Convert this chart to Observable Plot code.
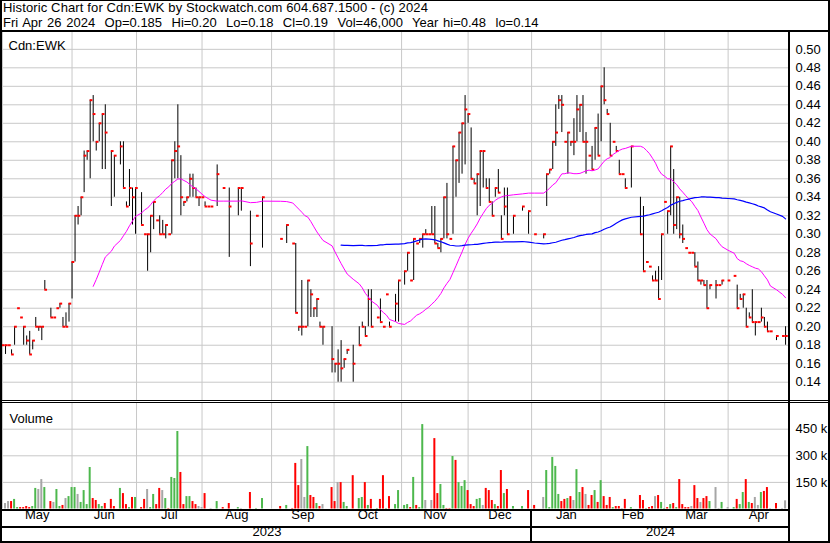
<!DOCTYPE html>
<html><head><meta charset="utf-8">
<script src="https://cdn.jsdelivr.net/npm/d3@7"></script>
<script src="https://cdn.jsdelivr.net/npm/@observablehq/plot@0.6"></script>
<style>
body{margin:0;background:#fff;}
#wrap{position:relative;width:830px;height:543px;background:#fff;overflow:hidden;font-family:Arial,"Liberation Sans",sans-serif;color:#000;}
.hd{position:absolute;left:3px;font-size:13px;line-height:15px;white-space:pre;}
#hdr1{top:0;letter-spacing:0.13px;}
#hdr2{top:15px;word-spacing:1.1px;}
.ln{position:absolute;background:#000;z-index:5;}
.pl{position:absolute;left:0;}
</style></head><body><div id="wrap"><div id="hdr1" class="hd"></div><div id="hdr2" class="hd"></div></div>
<script>
// ---- header text ----
const titleLine = "Historic Chart for Cdn:EWK by Stockwatch.com 604.687.1500 - (c) 2024";
const quoteLine = "Fri Apr 26 2024  Op=0.185  Hi=0.20  Lo=0.18  Cl=0.19  Vol=46,000  Year hi=0.48  lo=0.14";
const symbolLabel = "Cdn:EWK";
const volumeLabel = "Volume";

// ---- daily data, one entry per weekday from Fri 2023-04-28 to Fri 2024-04-26 (null = no bar) ----
const high = [
 null,.18,.18,.18,.175,.20,.22,.21,.20,.19,
 .195,.185,.21,.20,.20,.25,null,.22,.21,.22,
 .225,.21,.215,.225,.27,.32,.33,.34,.39,.39,
 .445,.45,.40,.42,.43,.44,null,.39,.385,null,
 .40,.40,.335,.37,.35,.35,null,.345,.30,.30,
 .32,.335,.315,.32,.315,.31,.30,.38,.40,.44,
 .385,.335,.34,.365,.365,.35,.34,.34,.335,.33,
 .33,null,.375,null,.35,null,.35,null,null,.35,
 .35,null,null,.325,null,.32,null,.34,null,null,
 null,null,null,.295,null,.31,null,.29,.29,.20,
 .25,.20,.25,.24,.22,.23,.205,.20,null,null,
 .20,.16,.175,.185,.165,.175,null,.18,null,.20,
 .205,.20,.24,.24,null,.21,.23,.20,.235,.205,
 null,.235,.25,null,.26,.28,.25,.295,.29,.295,
 .30,.305,.30,.33,.33,.29,.295,.34,.355,.295,
 .395,.38,.41,.42,.45,.43,.415,.36,.365,.39,
 .39,.36,.36,.335,.35,.37,.32,.35,.35,null,
 .32,null,null,.33,null,.325,null,.30,null,null,
 .30,.365,.37,.40,.44,.45,.45,.40,.41,.40,
 .425,.45,.44,.45,.41,.385,.395,.415,.43,.46,
 .48,.435,.42,.40,.395,.38,.365,.36,null,.395,
 null,null,.34,.33,.27,.265,.255,.26,.265,.30,
 .335,.325,.395,.37,.34,.34,.31,.285,.28,.28,
 .28,.27,.25,.25,.25,.245,null,.25,.245,.25,
 null,.25,null,.255,.245,.235,.235,.22,.215,.24,
 .205,.205,.22,.21,.205,.195,null,.19,null,.19,.20
];
const low = [
 null,.18,.17,.18,.17,.18,.22,.21,.18,.18,
 .17,.175,.20,.195,.185,.24,null,.21,.21,.22,
 .22,.20,.20,.205,.23,.27,.31,.32,.345,.38,
 .36,.40,.39,.40,.37,.37,null,.33,.34,null,
 .375,.35,.33,.33,.31,.30,null,.31,.30,.26,
 .28,.305,.315,.30,.30,.295,.30,.30,.36,.36,
 .32,.33,.335,.34,.34,.34,.33,.34,.33,.33,
 .33,null,.33,null,.35,null,.275,null,null,.32,
 .325,null,null,.265,null,.32,null,.285,null,null,
 null,null,null,.295,null,.29,null,.29,.215,.195,
 .19,.20,.20,.21,.21,.21,.20,.18,null,null,
 .15,.15,.14,.14,.155,.17,null,.14,null,.18,
 .20,.19,.20,.20,null,.21,.205,.20,.235,.20,
 null,.205,.205,null,.245,.26,.25,.25,.29,.29,
 .285,.30,.30,.30,.29,.285,.28,.295,.295,.295,
 .30,.34,.355,.365,.375,.42,.36,.355,.32,.33,
 .35,.35,.335,.32,.34,.345,.295,.32,.30,null,
 .30,null,null,.325,null,.30,null,.30,null,null,
 .295,.33,.365,.37,.395,.435,.41,.40,.365,.395,
 .385,.40,.41,.40,.365,.385,.37,.38,.385,.40,
 .44,.43,.385,.40,.39,.365,.365,.35,null,.35,
 null,null,.30,.26,.27,.265,.25,.25,.23,.25,
 .335,.30,.32,.30,.305,.295,.29,.285,.28,.28,
 .265,.25,.245,.245,.22,.24,null,.23,.245,.245,
 null,.25,null,.255,.22,.23,.22,.20,.21,.205,
 .19,.205,.205,.20,.195,.195,null,.185,null,.19,.18
];
const close = [
 null,.18,.18,.18,.17,.20,.22,.21,.20,.185,
 .17,.185,.20,.20,.20,.24,null,.21,.21,.22,
 .225,.20,.20,.225,.27,.32,.32,.34,.385,.39,
 .445,.43,.40,.42,.43,.41,null,.39,.385,null,
 .395,.35,.33,.35,.34,.35,null,.31,.30,.30,
 .32,.335,.315,.30,.30,.31,.30,.38,.39,.395,
 .34,.335,.34,.36,.35,.34,.34,.34,.33,.33,
 .33,null,.365,null,.35,null,.33,null,null,.35,
 .35,null,null,.29,null,.32,null,.34,null,null,
 null,null,null,.295,null,.31,null,.29,.215,.20,
 .20,.20,.25,.235,.22,.23,.20,.20,null,null,
 .165,.16,.16,.155,.165,.175,null,.16,null,.18,
 .20,.19,.23,.20,null,.21,.205,.20,.235,.20,
 null,.225,.25,null,.26,.28,.25,.295,.29,.295,
 .30,.30,.30,.30,.29,.285,.295,.34,.30,.295,
 .395,.38,.41,.42,.435,.43,.36,.355,.365,.39,
 .39,.35,.335,.32,.35,.345,.295,.33,.30,null,
 .32,null,null,.33,null,.325,null,.30,null,null,
 .30,.365,.37,.40,.41,.445,.44,.40,.41,.40,
 .40,.435,.44,.40,.40,.385,.37,.415,.385,.46,
 .445,.43,.385,.40,.39,.365,.365,.35,null,.395,
 null,null,.30,.26,.27,.265,.25,.25,.23,.30,
 .335,.325,.395,.31,.34,.30,.295,.285,.28,.28,
 .265,.25,.25,.245,.22,.245,null,.245,.245,.25,
 null,.25,null,.255,.22,.23,.235,.20,.21,.205,
 .205,.205,.21,.20,.195,.195,null,.19,null,.19,.19
];
const volumeK = [
 null,0,31,42,42,54,8,8,8,14,
 8,14,116,110,166,121,null,42,37,110,
 14,20,59,70,121,121,82,37,104,25,
 234,59,48,25,14,31,null,54,14,null,
 116,87,25,8,65,65,null,8,54,110,
 8,82,25,116,104,59,3,178,172,437,
 206,25,70,70,42,25,14,8,87,0,
 3,null,42,null,8,null,31,null,null,8,
 3,null,null,93,null,3,null,59,null,null,
 null,null,null,14,null,20,null,3,257,132,
 279,65,352,76,65,31,14,25,null,null,
 121,42,149,149,37,14,null,188,null,59,
 65,149,20,54,null,3,54,188,3,70,
 null,25,104,null,20,25,8,178,20,8,
 476,48,0,48,397,87,138,20,3,3,
 296,274,149,127,160,104,25,14,54,59,
 20,116,104,48,25,14,217,87,110,null,
 14,null,null,14,null,104,null,20,null,null,
 65,217,8,291,240,82,42,54,59,70,
 48,222,93,121,82,20,76,104,37,160,
 70,20,65,8,14,14,3,54,null,8,
 null,null,76,48,3,8,14,70,76,37,
 3,8,25,31,8,166,25,8,8,14,
 132,59,37,59,70,42,null,121,3,37,
 null,8,null,8,54,25,93,166,37,31,
 65,20,93,99,121,3,null,31,null,3,46
];

// ---- axis labels ----
const priceTicks = [0.14,0.16,0.18,0.20,0.22,0.24,0.26,0.28,0.30,0.32,0.34,0.36,0.38,0.40,0.42,0.44,0.46,0.48,0.50];
const volumeTicks = [150,300,450];
const monthNames = ["May","Jun","Jul","Aug","Sep","Oct","Nov","Dec","Jan","Feb","Mar","Apr"];
const yearNames = ["2023","2024"];
const maPeriods = [30, 91];

// ---- calendar (weekdays) ----
const dates = [];
for (let t = new Date(2023,3,28); t <= new Date(2024,3,26); t.setDate(t.getDate()+1)) {
  const wd = t.getDay(); if (wd > 0 && wd < 6) dates.push(new Date(t));
}
const xEnd = dates.length + 0.3;
const bounds = [];
for (let i = 1; i < dates.length; i++) {
  if (dates[i].getMonth() !== dates[i-1].getMonth()) bounds.push({i, pos: i - (dates[i].getDate()-1)/3});
}
const monthLabels = monthNames.map((m, k) => ({m, c: (bounds[k].pos + (k+1 < bounds.length ? bounds[k+1].pos : xEnd)) / 2}));
const janPos = bounds.find(b => dates[b.i].getMonth() === 0).pos;
const yearLabels = [{y: yearNames[0], c: (1 + janPos)/2}, {y: yearNames[1], c: (janPos + xEnd)/2}];
const gridBounds = bounds.slice(0, monthNames.length).map(b => b.pos);

// ---- rows ----
const rows = [];
let prev = null;
close.forEach((c, d) => {
  if (c == null) return;
  const color = prev == null || c === prev ? "#a6a6a6" : (c > prev ? "#4db84d" : "#ff0000");
  rows.push({d, h: high[d], l: low[d], c, v: volumeK[d], color});
  prev = c;
});
function sma(k) {
  const out = [], buf = [];
  for (const r of rows) { buf.push(r.c); if (buf.length > k) buf.shift(); if (buf.length === k) out.push({d: r.d, m: d3.mean(buf)}); }
  return out;
}
const maShort = sma(maPeriods[0]), maLong = sma(maPeriods[1]);

const font = {fontFamily: "Arial, 'Liberation Sans', sans-serif", fontSize: "13px", background: "transparent", color: "#000", overflow: "visible"};
const xScale = {type: "linear", domain: [1, xEnd], axis: null};

const price = Plot.plot({
  width: 830, height: 371, marginLeft: 2, marginRight: 41, marginTop: 1, marginBottom: 1.8,
  style: font,
  x: xScale,
  y: {type: "linear", domain: [0.12, 0.5182], axis: "right", ticks: priceTicks, tickFormat: d3.format(".2f"), tickSize: 0, tickPadding: 6, label: null},
  marks: [
    Plot.ruleY(priceTicks, {stroke: "#c8c8c8", strokeWidth: 1}),
    Plot.ruleX(gridBounds, {stroke: "#c8c8c8", strokeWidth: 1}),
    Plot.ruleX(rows, {x: "d", y1: "l", y2: "h", stroke: "#000", strokeWidth: 1}),
    Plot.ruleY(rows, {x1: "d", x2: r => r.d + 0.9, y: "c", stroke: "#ff0000", strokeWidth: 2}),
    Plot.line(maShort, {x: "d", y: "m", stroke: "#ff00ff", strokeWidth: 1}),
    Plot.line(maLong, {x: "d", y: "m", stroke: "#0000ff", strokeWidth: 1.2}),
    Plot.text([symbolLabel], {text: d => d, frameAnchor: "top-left", dx: 6, dy: 8, textAnchor: "start", fill: "#000"})
  ]
});

const vol = Plot.plot({
  width: 830, height: 141, marginLeft: 2, marginRight: 41, marginTop: 1, marginBottom: 34.5,
  style: font,
  x: xScale,
  y: {type: "linear", domain: [0, 594.9], axis: "right", ticks: volumeTicks, tickFormat: v => v + " k", tickSize: 0, tickPadding: 6, label: null},
  color: {type: "identity"},
  marks: [
    Plot.ruleY(volumeTicks, {stroke: "#c8c8c8", strokeWidth: 1}),
    Plot.ruleX(gridBounds, {stroke: "#c8c8c8", strokeWidth: 1}),
    Plot.rectY(rows.filter(r => r.v > 0), {x1: r => r.d - 0.33, x2: r => r.d + 0.33, y: "v", fill: "color"}),
    Plot.text([volumeLabel], {text: d => d, frameAnchor: "top-left", dx: 7, dy: 10.5, textAnchor: "start", fill: "#000"}),
    Plot.text(monthLabels, {x: "c", text: "m", frameAnchor: "bottom", dy: 10, fill: "#000"}),
    Plot.text(yearLabels, {x: "c", text: "y", frameAnchor: "bottom", dy: 26.5, fill: "#000"})
  ]
});

const wrap = document.getElementById("wrap");
document.getElementById("hdr1").textContent = titleLine;
document.getElementById("hdr2").textContent = quoteLine;
price.classList.add("pl"); price.style.top = "31px";
vol.classList.add("pl"); vol.style.top = "402px";
wrap.appendChild(price); wrap.appendChild(vol);

const janX = vol.scale("x").apply(janPos);
function line(l, t, w, h) { const e = document.createElement("div"); e.className = "ln"; Object.assign(e.style, {left: l+"px", top: t+"px", width: w+"px", height: h+"px"}); wrap.appendChild(e); }
line(0, 0, 830, 1);        // top border
line(0, 0, 2, 543);        // left border
line(828, 0, 2, 543);      // right border
line(0, 30, 830, 2);       // header rule
line(788, 31, 2, 512);     // axis separator
line(0, 400, 830, 1);      // double rule
line(0, 402, 830, 1);
line(0, 509, 790, 2);      // volume bottom
line(0, 526, 790, 2);      // month / year rows
line(0, 541, 830, 2);      // bottom border
line(Math.round(janX) - 1, 511, 2, 30); // year divider
</script></body></html>
